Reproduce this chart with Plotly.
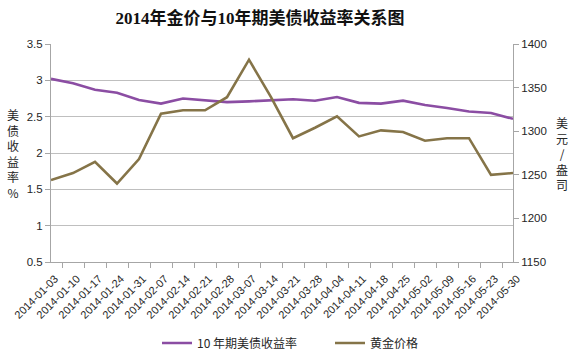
import plotly.graph_objects as go

dates = ["2014-01-03", "2014-01-10", "2014-01-17", "2014-01-24", "2014-01-31",
         "2014-02-07", "2014-02-14", "2014-02-21", "2014-02-28", "2014-03-07",
         "2014-03-14", "2014-03-21", "2014-03-28", "2014-04-04", "2014-04-11",
         "2014-04-18", "2014-04-25", "2014-05-02", "2014-05-09", "2014-05-16",
         "2014-05-23", "2014-05-30"]
yield_10y = [3.02, 2.96, 2.87, 2.83, 2.73, 2.68, 2.75, 2.73, 2.70, 2.71, 2.72,
             2.74, 2.72, 2.77, 2.69, 2.68, 2.72, 2.66, 2.62, 2.57, 2.55, 2.47]
gold = [1244, 1252, 1265, 1240, 1268, 1320, 1324, 1324, 1339, 1382, 1339,
        1292, 1304, 1317, 1294, 1301, 1299, 1289, 1292, 1292, 1250, 1252]

title = "2014年金价与10年期美债收益率关系图"
name_yield = "10 年期美债收益率"
name_gold = "黄金价格"

PURPLE = "#8B4DA3"
GOLD = "#857448"
GRID = "#BFBFBF"
TXT = "#262626"
CJK = "Noto Sans CJK SC"
LAT = "Liberation Sans"

fig = go.Figure()
fig.add_trace(go.Scatter(x=dates, y=yield_10y, name=name_yield, mode="lines",
                         line=dict(color=PURPLE, width=2.6)))
fig.add_trace(go.Scatter(x=dates, y=gold, name=name_gold, mode="lines",
                         line=dict(color=GOLD, width=2.6), yaxis="y2"))

fig.update_layout(
    width=576, height=353,
    margin=dict(l=51, r=63, t=44, b=91, autoexpand=False),
    paper_bgcolor="white", plot_bgcolor="white",
    title=dict(text="<b>" + title + "</b>", x=0.5 - 28 / 576, xref="container", xanchor="center",
               y=1 - 18 / 353, yref="container", yanchor="middle",
               font=dict(family="Liberation Serif, " + CJK, size=17, color="#111111")),
    xaxis=dict(type="category", tickangle=-45, showgrid=False, automargin=False,
               showline=True, linecolor="#A6A6A6", linewidth=1,
               ticks="outside", ticklen=5, tickcolor="#A6A6A6", tickson="boundaries",
               ticklabelstandoff=5, ticklabelshift=4,
               tickfont=dict(family=LAT, size=11, color=TXT), mirror=False),
    yaxis=dict(range=[0.5, 3.5], dtick=0.5, tick0=0.5, showgrid=True, gridcolor=GRID,
               gridwidth=1, showline=True, linecolor="#A6A6A6", ticks="outside",
               ticklen=5, tickcolor="#A6A6A6", zeroline=False, automargin=False,
               tickfont=dict(family=LAT, size=11.5, color=TXT)),
    yaxis2=dict(range=[1150, 1400], dtick=50, overlaying="y", side="right",
                showgrid=False, showline=True, linecolor="#A6A6A6", ticks="outside",
                ticklen=5, tickcolor="#A6A6A6", zeroline=False, automargin=False,
                tickfont=dict(family=LAT, size=11.5, color=TXT)),
    legend=dict(orientation="h", x=(165 - 8) / 576, xref="container", xanchor="left",
                y=1 - 343 / 353, yref="container", yanchor="middle",
                font=dict(family=CJK, size=12, color=TXT), itemwidth=30,
                entrywidthmode="pixels", entrywidth=128),
    showlegend=True,
)

fig.add_annotation(text="美<br>债<br>收<br>益<br>率<br>%", xref="paper", yref="paper",
                   x=-(51 - 13) / 462, y=0.5, showarrow=False,
                   xanchor="center", yanchor="middle",
                   font=dict(family=CJK, size=12, color=TXT))
fig.add_annotation(text="美<br>元<br>/<br>盎<br>司", xref="paper", yref="paper",
                   x=1 + (562 - 513) / 462, y=(262 - 153) / 218, showarrow=False,
                   xanchor="center", yanchor="middle",
                   font=dict(family=CJK, size=12, color=TXT))

fig.write_html("out.html")
